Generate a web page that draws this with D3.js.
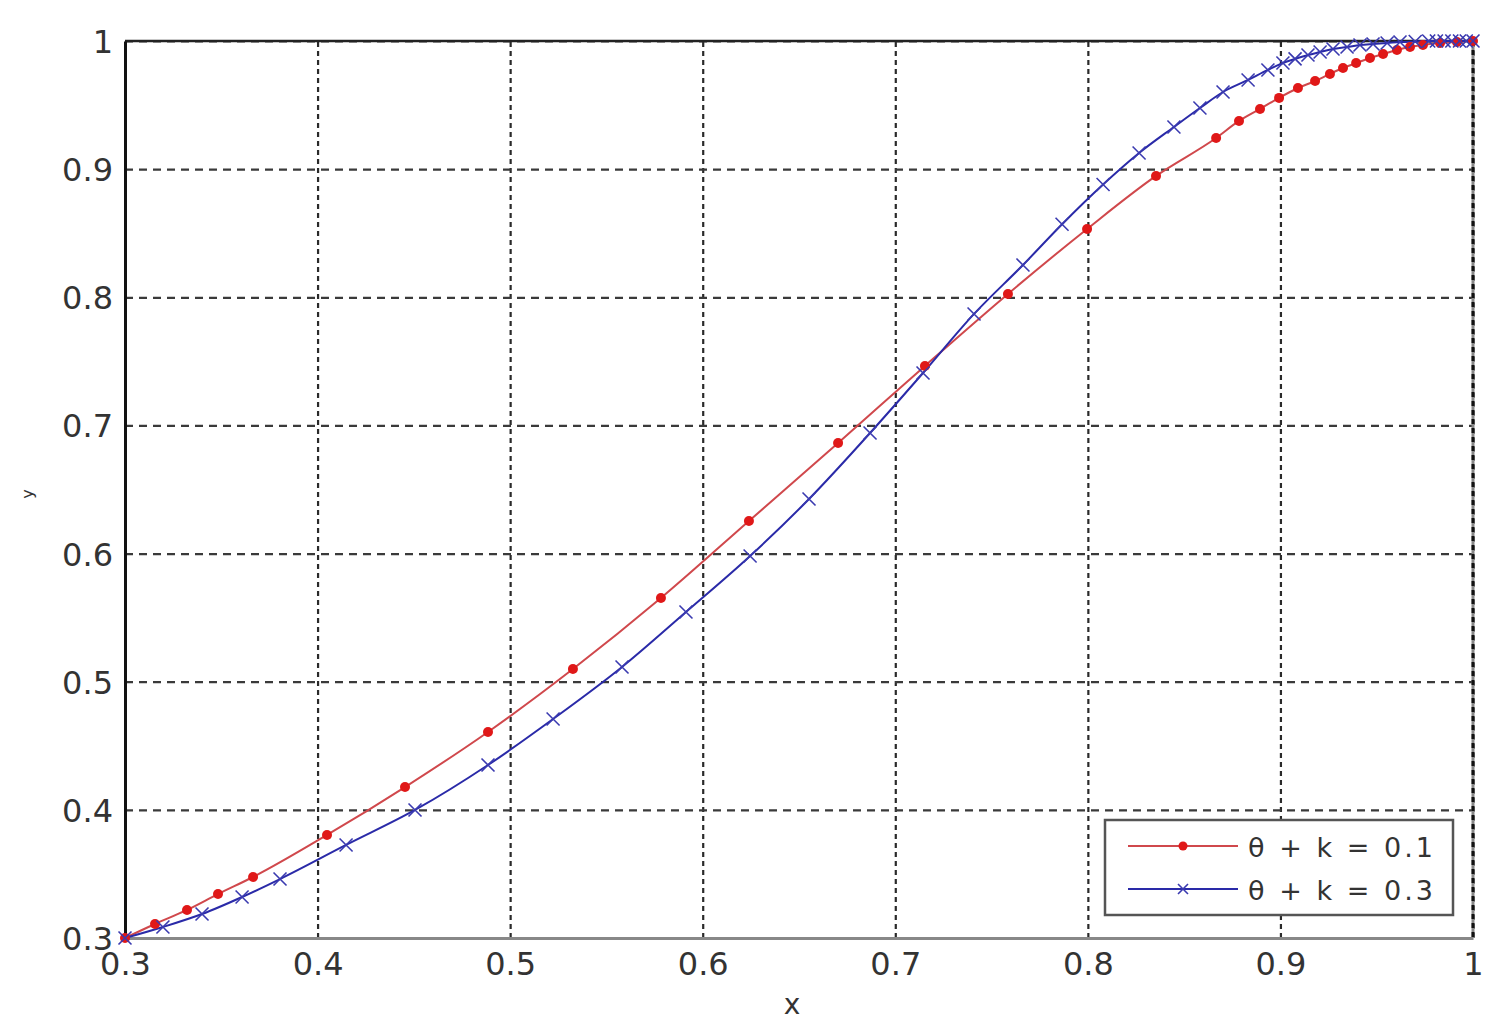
<!DOCTYPE html>
<html>
<head>
<meta charset="utf-8">
<script src="https://cdn.jsdelivr.net/npm/d3@7"></script>
<style>
  html, body { margin: 0; padding: 0; background: #fff; }
  svg { display: block; }
  text { font-family: "DejaVu Sans", sans-serif; fill: #333; }
</style>
</head>
<body>
<svg id="chart" width="1505" height="1034"></svg>
<script>
// ---- data ----
const xTicks = [0.3, 0.4, 0.5, 0.6, 0.7, 0.8, 0.9, 1.0];
const yTicks = [0.3, 0.4, 0.5, 0.6, 0.7, 0.8, 0.9, 1.0];

const redX = [0.3000, 0.3156, 0.3322, 0.3483, 0.3665, 0.4049, 0.4454, 0.4885, 0.5326, 0.5783,
              0.6240, 0.6703, 0.7154, 0.7585, 0.7996, 0.8354, 0.8666, 0.8785, 0.8894, 0.8993,
              0.9091, 0.9180, 0.9257, 0.9325, 0.9393, 0.9465, 0.9533, 0.9605, 0.9673, 0.9740,
              0.9829, 0.9917, 1.0000];
const redY = [0.3000, 0.3109, 0.3219, 0.3343, 0.3476, 0.3804, 0.4178, 0.4608, 0.5099, 0.5653,
              0.6254, 0.6863, 0.7464, 0.8026, 0.8533, 0.8947, 0.9243, 0.9376, 0.9470, 0.9556,
              0.9633, 0.9688, 0.9743, 0.9789, 0.9828, 0.9867, 0.9899, 0.9930, 0.9953, 0.9969,
              0.9984, 0.9992, 1.0000];

const blueX = [0.3000, 0.3197, 0.3400, 0.3608, 0.3805, 0.4148, 0.4506, 0.4885, 0.5223, 0.5581,
               0.5913, 0.6246, 0.6552, 0.6869, 0.7144, 0.7409, 0.7663, 0.7866, 0.8079, 0.8266,
               0.8447, 0.8582, 0.8702, 0.8832, 0.8935, 0.9013, 0.9076, 0.9143, 0.9206, 0.9273,
               0.9346, 0.9413, 0.9481, 0.9554, 0.9621, 0.9700, 0.9770, 0.9810, 0.9850, 0.9890,
               0.9930, 0.9965, 1.0000];
const blueY = [0.3000, 0.3086, 0.3187, 0.3320, 0.3460, 0.3726, 0.3999, 0.4350, 0.4709, 0.5115,
               0.5544, 0.5981, 0.6426, 0.6941, 0.7409, 0.7870, 0.8252, 0.8570, 0.8880, 0.9126,
               0.9329, 0.9477, 0.9602, 0.9696, 0.9774, 0.9828, 0.9860, 0.9891, 0.9914, 0.9938,
               0.9953, 0.9969, 0.9977, 0.9984, 0.9992, 0.9996, 1.0000, 1.0000, 1.0000, 1.0000,
               1.0000, 1.0000, 1.0000];

const seriesNames = ["θ + k = 0.1", "θ + k = 0.3"];
const xLabel = "x";
const yLabel = "y";

// ---- layout ----
const svg = d3.select("#chart");
const L = 125, R = 1473, T = 41, B = 938;
const x = d3.scaleLinear().domain([0.3, 1]).range([L, R]);
const y = d3.scaleLinear().domain([0.3, 1]).range([B, T]);
const fmt = d => (d === 1 ? "1" : d.toFixed(1));

// gridlines
const gx = svg.append("g").attr("transform", `translate(0,${B})`)
  .call(d3.axisBottom(x).tickValues(xTicks).tickSize(-(B - T)).tickFormat(""));
gx.select(".domain").remove();
gx.selectAll("line").attr("stroke", "#2a2a2a").attr("stroke-width", 2.2).attr("stroke-dasharray", "5,4");

const gy = svg.append("g").attr("transform", `translate(${L},0)`)
  .call(d3.axisLeft(y).tickValues(yTicks).tickSize(-(R - L)).tickFormat(""));
gy.select(".domain").remove();
gy.selectAll("line").attr("stroke", "#3a3a3a").attr("stroke-width", 2.2).attr("stroke-dasharray", "8,6");

// frame
svg.append("line").attr("x1", L).attr("x2", R).attr("y1", T).attr("y2", T)
  .attr("stroke", "#222").attr("stroke-width", 2.5);
svg.append("line").attr("x1", R).attr("x2", R).attr("y1", T).attr("y2", B)
  .attr("stroke", "#888").attr("stroke-width", 3);
svg.append("line").attr("x1", R).attr("x2", R).attr("y1", T).attr("y2", B)
  .attr("stroke", "#111").attr("stroke-width", 3).attr("stroke-dasharray", "5,4");

// axes with labels
const ax = svg.append("g").attr("transform", `translate(0,${B})`)
  .call(d3.axisBottom(x).tickValues(xTicks).tickSize(0).tickPadding(0).tickFormat(fmt));
ax.select(".domain").attr("stroke", "#888").attr("stroke-width", 3);
ax.selectAll("text").attr("font-size", 32).attr("fill", "#333")
  .attr("font-family", "DejaVu Sans").attr("dy", null).attr("y", 37);

const ay = svg.append("g").attr("transform", `translate(${L},0)`)
  .call(d3.axisLeft(y).tickValues(yTicks).tickSize(0).tickPadding(0).tickFormat(fmt));
ay.select(".domain").attr("stroke", "#111").attr("stroke-width", 3);
ay.selectAll("text").attr("font-size", 32).attr("fill", "#333")
  .attr("font-family", "DejaVu Sans").attr("x", -12).attr("dy", "0.36em");

// axis titles
svg.append("text").attr("x", 792).attr("y", 1014).attr("text-anchor", "middle")
  .attr("font-size", 28).text(xLabel);
svg.append("text").attr("transform", "translate(33,494) rotate(-90)")
  .attr("text-anchor", "middle").attr("font-size", 16).text(yLabel);

// series
const redData = redX.map((v, i) => [v, redY[i]]);
const blueData = blueX.map((v, i) => [v, blueY[i]]);
const line = d3.line().x(d => x(d[0])).y(d => y(d[1])).curve(d3.curveMonotoneX);

svg.append("path").datum(redData).attr("d", line)
  .attr("fill", "none").attr("stroke", "#d0484c").attr("stroke-width", 2);
svg.append("path").datum(blueData).attr("d", line)
  .attr("fill", "none").attr("stroke", "#2a2aa8").attr("stroke-width", 2);

svg.append("g").selectAll("circle").data(redData).join("circle")
  .attr("cx", d => x(d[0])).attr("cy", d => y(d[1])).attr("r", 5).attr("fill", "#e01818");

const cross = (g, cx, cy, s) => {
  g.append("path")
    .attr("d", `M${cx - s},${cy - s}L${cx + s},${cy + s}M${cx - s},${cy + s}L${cx + s},${cy - s}`)
    .attr("stroke", "#3a3ab0").attr("stroke-width", 1.6).attr("fill", "none");
};
const bm = svg.append("g");
blueData.forEach(d => cross(bm, x(d[0]), y(d[1]), 6.5));

// legend
const lg = svg.append("g");
lg.append("rect").attr("x", 1105).attr("y", 820).attr("width", 348).attr("height", 95)
  .attr("fill", "#fff").attr("stroke", "#555").attr("stroke-width", 2.5);
const legY = [846, 889];
lg.append("line").attr("x1", 1128).attr("x2", 1238).attr("y1", legY[0]).attr("y2", legY[0])
  .attr("stroke", "#d0484c").attr("stroke-width", 2);
lg.append("circle").attr("cx", 1183).attr("cy", legY[0]).attr("r", 4.5).attr("fill", "#e01818");
lg.append("line").attr("x1", 1128).attr("x2", 1238).attr("y1", legY[1]).attr("y2", legY[1])
  .attr("stroke", "#2a2aa8").attr("stroke-width", 2);
cross(lg, 1183, legY[1], 5);
seriesNames.forEach((n, i) => {
  lg.append("text").attr("x", 1248).attr("y", legY[i] + 11).attr("font-size", 27)
    .attr("textLength", 185).attr("lengthAdjust", "spacing").text(n);
});
</script>
</body>
</html>
